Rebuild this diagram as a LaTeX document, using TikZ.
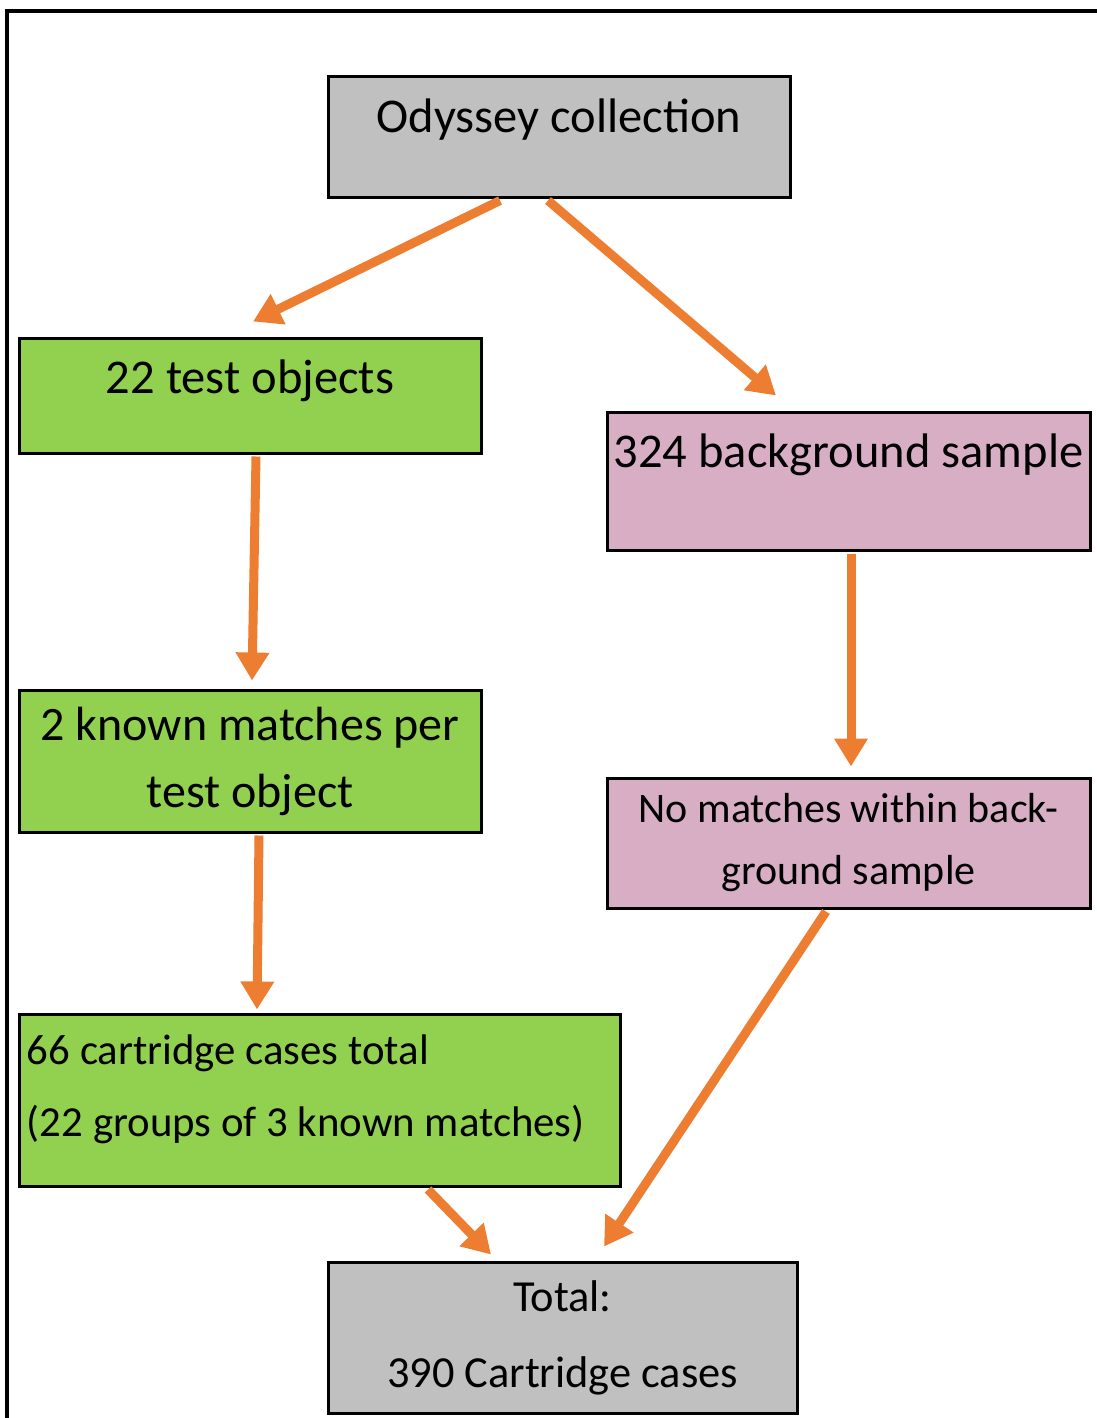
\documentclass[tikz,border=0pt]{standalone}
\usepackage{fontspec}
\setmainfont{Carlito}
\usetikzlibrary{arrows.meta}
\definecolor{boxgray}{HTML}{C0C0C0}
\definecolor{boxgreen}{HTML}{92D050}
\definecolor{boxpink}{HTML}{D8AEC4}
\definecolor{flowcolor}{HTML}{ED7D31}
\begin{document}
\begin{tikzpicture}[x=1pt, y=-1pt,
  box/.style={draw=black, line width=3pt, inner sep=0pt},
  bigtext/.style={font=\fontsize{48.5}{58}\selectfont, text height=55pt},
  smalltext/.style={font=\fontsize{42}{50}\selectfont, align=center},
  flow/.style={draw=flowcolor, line width=9pt, -{Triangle[length=28pt,width=32pt]}}]
\useasboundingbox (0,0) rectangle (1096,1418);
\draw[line width=4.5pt] (1100,11) -- (7,11) -- (7,1422);
\node[box, bigtext, fill=boxgray, minimum width=462pt, text depth=65pt] (odyssey) at (559,137) {Odyssey collection};
\node[box, bigtext, fill=boxgreen, minimum width=462pt, text depth=60pt] (tests) at (250,395.5) {22 test objects};
\node[box, bigtext, fill=boxpink, minimum width=483pt, text depth=83pt] (background) at (848.5,481) {324 background sample};
\node[box, smalltext, font=\fontsize{48}{58}\selectfont, fill=boxgreen, minimum width=462pt, minimum height=142pt] (known) at (250,761) {2 known matches per\\[9pt]test object};
\node[box, smalltext, fill=boxpink, minimum width=483pt, minimum height=130pt] (nomatch) at (848.5,843) {No matches within back-\\[12pt]ground sample};
\node[box, smalltext, font=\fontsize{42.8}{51}\selectfont, align=flush left, fill=boxgreen, text width=585pt, inner xsep=8pt, text height=50pt, text depth=122pt] (cases) at (319.5,1100) {66 cartridge cases total\\[21pt](22 groups of 3 known matches)};
\node[box, smalltext, font=\fontsize{44.4}{53}\selectfont, fill=boxgray, minimum width=469pt, minimum height=151pt] (total) at (562.5,1337.5) {Total:\\[23pt]390 Cartridge cases};
\draw[flow] ([xshift=-59pt,yshift=-2pt]odyssey.south) -- ([xshift=3pt,yshift=15pt]tests.north);
\draw[flow] ([xshift=-11pt,yshift=-2pt]odyssey.south) -- ([xshift=-72.5pt,yshift=15pt]background.north);
\draw[flow] ([xshift=6pt,yshift=-2pt]tests.south) -- ([xshift=2pt,yshift=8pt]known.north);
\draw[flow] ([xshift=2.5pt,yshift=-2pt]background.south) -- ([xshift=2.5pt,yshift=10pt]nomatch.north);
\draw[flow] ([xshift=9pt,yshift=-2pt]known.south) -- ([xshift=-62.5pt,yshift=3pt]cases.north);
\draw[flow] ([xshift=-22.5pt,yshift=-2pt]nomatch.south) -- ([xshift=41.5pt,yshift=14pt]total.north);
\draw[flow] ([xshift=108.5pt,yshift=-2pt]cases.south) -- ([xshift=-71.5pt,yshift=6pt]total.north);
\end{tikzpicture}
\end{document}
